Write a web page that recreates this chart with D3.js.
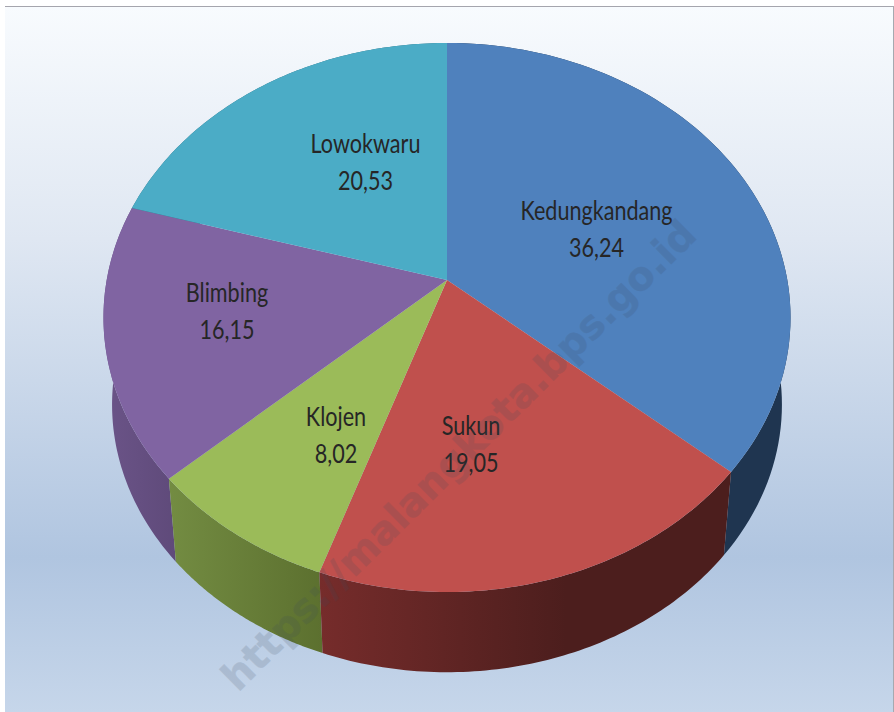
<!DOCTYPE html>
<html><head><meta charset="utf-8">
<script src="https://cdn.jsdelivr.net/npm/d3@7/dist/d3.min.js"></script>
<style>html,body{margin:0;padding:0;background:#fff;overflow:hidden}svg{display:block}</style>
</head><body><div id="chart"></div>
<script>
const categories = ["Kedungkandang","Sukun","Klojen","Blimbing","Lowokwaru"];
const values = [36.24,19.05,8.02,16.15,20.53];
const valueLabels = ["36,24","19,05","8,02","16,15","20,53"];
const topColors = ["#4f81bd","#c0504d","#9bbb59","#8064a2","#4bacc6"];
const wallLeft = ["#1f3550","#762c2b","#738c42","#6b5488","#2f6d7e"];
const wallRight = ["#1f3550","#4c1e1d","#5c702f","#5f4a7a","#2f6d7e"];
const labelX = [596.5,471,336,227,365.5];
const labelY = [220,435,426,302,153];
const W=894,H=712,cx=447,cy=280,A=340.3,B=269.4,k=0.1366,bottomScale=0.975,bottomCy=368;

const svg=d3.select("#chart").append("svg").attr("width",W).attr("height",H);
const defs=svg.append("defs");
const bg=defs.append("linearGradient").attr("id","bg").attr("x1",0).attr("y1",0).attr("x2",0).attr("y2",1);
[[0,"#f8fbfe"],[0.33,"#dfe7f2"],[0.78,"#b0c5e0"],[1,"#c6d6ea"]].forEach(s=>bg.append("stop").attr("offset",s[0]).attr("stop-color",s[1]));
categories.forEach((c,i)=>{
  const g=defs.append("linearGradient").attr("id","wall"+i);
  g.append("stop").attr("offset",0).attr("stop-color",wallLeft[i]);
  g.append("stop").attr("offset",i===1?0.6:1).attr("stop-color",wallRight[i]);
});

svg.append("rect").attr("x",5).attr("y",6.5).attr("width",888).attr("height",706).attr("fill","url(#bg)");
svg.append("line").attr("x1",5).attr("x2",894).attr("y1",6.5).attr("y2",6.5).attr("stroke","#a5a5ad").attr("stroke-width",1.2);
svg.append("line").attr("x1",893.5).attr("x2",893.5).attr("y1",6).attr("y2",712).attr("stroke","#a5a9b0").attr("stroke-width",1);

function project(a,r=1){
  const u=Math.sin(a)*r,v=-Math.cos(a)*r,s=1/(1-k*v);
  return [cx+A*u*s,cy+B*v*s];
}
function projectBottom(a){
  const p=project(a);
  return [cx+(p[0]-cx)*bottomScale,bottomCy+(p[1]-cy)*bottomScale];
}
const pie=d3.pie().sort(null).value(d=>d);
const arcs=pie(values);
const line=d3.line();
const samples=(a0,a1)=>d3.range(0,81).map(d3.scaleLinear().domain([0,80]).range([a0,a1]));

const walls=svg.append("g");
// draw back to front: outer wall of each slice, top disc covers the hidden rim
[0,3,4,2,1].forEach(i=>{
  const as=samples(arcs[i].startAngle,arcs[i].endAngle);
  const pts=as.map(a=>project(a)).concat(as.slice().reverse().map(projectBottom));
  walls.append("path").attr("d",line(pts)+"Z").attr("fill",`url(#wall${i})`);
});
const tops=svg.append("g");
arcs.forEach((d,i)=>{
  const pts=[[cx,cy]].concat(samples(d.startAngle,d.endAngle).map(a=>project(a)));
  tops.append("path").attr("d",line(pts)+"Z").attr("fill",topColors[i]);
});

const labels=svg.append("g").attr("font-family","Lato, 'Open Sans', sans-serif").attr("font-size",27).attr("fill","#262626").attr("text-anchor","middle");
categories.forEach((c,i)=>{
  const g=labels.append("g").attr("transform",`translate(${labelX[i]},${labelY[i]}) scale(0.8,1)`);
  g.append("text").text(c);
  g.append("text").attr("y",37).text(valueLabels[i]);
});

svg.append("text").attr("transform","translate(461,457.5) rotate(-44.7)")
  .attr("text-anchor","middle").attr("dominant-baseline","middle")
  .attr("font-family","'DejaVu Sans',sans-serif").attr("font-weight","bold").attr("font-size",39.6)
  .attr("fill","#3c4a5c").attr("stroke","#3c4a5c").attr("stroke-width",0.5).attr("opacity",0.16).text("https://malangkota.bps.go.id");
</script></body></html>
